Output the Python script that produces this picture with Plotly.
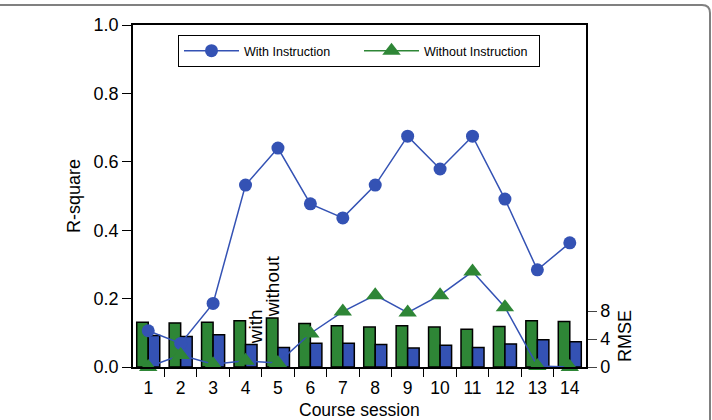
import plotly.graph_objects as go

sessions = list(range(1, 15))
r2_with = [0.106, 0.069, 0.186, 0.532, 0.640, 0.477, 0.436, 0.532, 0.675, 0.579, 0.675, 0.491, 0.284, 0.363]
r2_without = [0.0, 0.035, 0.008, 0.018, 0.012, 0.098, 0.162, 0.21, 0.159, 0.21, 0.279, 0.175, 0.003, 0.0]
rmse_without = [6.4, 6.3, 6.4, 6.6, 7.0, 6.2, 5.9, 5.7, 5.9, 5.7, 5.4, 5.8, 6.6, 6.5]
rmse_with = [4.5, 4.35, 4.6, 3.2, 2.8, 3.4, 3.4, 3.2, 2.7, 3.1, 2.8, 3.3, 3.9, 3.6]
rmse_ticks = [0, 4, 8]
r2_ticks = [0.0, 0.2, 0.4, 0.6, 0.8, 1.0]

BLUE = "#3452B4"
GREEN = "#2E8636"
FONT = "Liberation Sans, Arial, sans-serif"

fig = go.Figure()
# bars on primary y (RMSE, right side)
fig.add_trace(go.Bar(x=sessions, y=rmse_without, marker=dict(color=GREEN, line=dict(color="black", width=1.5)),
                     showlegend=False, yaxis="y"))
fig.add_trace(go.Bar(x=sessions, y=rmse_with, marker=dict(color=BLUE, line=dict(color="black", width=1.5)),
                     showlegend=False, yaxis="y"))
# lines on overlay y2 (R-square, left)
fig.add_trace(go.Scatter(x=sessions, y=r2_with, mode="lines+markers", name="With Instruction",
                         line=dict(color=BLUE, width=1.5), marker=dict(symbol="circle", size=13, color=BLUE),
                         yaxis="y2", cliponaxis=False))
fig.add_trace(go.Scatter(x=sessions, y=r2_without, mode="lines+markers", name="Without Instruction",
                         line=dict(color=BLUE, width=1.5), marker=dict(symbol="triangle-up", size=16, color=GREEN),
                         yaxis="y2", showlegend=False, cliponaxis=False))
# legend-only entry for the green line style
fig.add_trace(go.Scatter(x=[None], y=[None], mode="lines+markers", name="Without Instruction",
                         line=dict(color=GREEN, width=1.5), marker=dict(symbol="triangle-up", size=16, color=GREEN),
                         yaxis="y2"))

W, H = 712, 420
L, R, T, B = 133, 126, 25, 53
pw, ph = W - L - R, H - T - B

fig.update_layout(
    width=W, height=H,
    margin=dict(l=L, r=R, t=T, b=B),
    paper_bgcolor="white", plot_bgcolor="white",
    font=dict(family=FONT, size=18, color="black"),
    barmode="group", bargap=0.29, bargroupgap=0,
    xaxis=dict(range=[0.53, 14.5], tickvals=sessions, ticktext=[str(s) for s in sessions],
               ticks="", showline=True, linecolor="black", linewidth=1.5, mirror=True,
               showgrid=False, zeroline=False, automargin=False, ticklabelstandoff=4,
               tickfont=dict(size=17.5),
               minor=dict(tickvals=[s + 0.5 for s in sessions[:-1]], ticks="outside", ticklen=8,
                          tickwidth=1.2, tickcolor="black", showgrid=False)),
    yaxis=dict(range=[0, ph / 7.0], side="right", tickvals=rmse_ticks, ticks="outside", ticklen=9,
               tickwidth=1.2, tickcolor="#444", showline=True, linecolor="black", linewidth=1.5,
               showgrid=False, zeroline=False, tickfont=dict(size=18), automargin=False),
    yaxis2=dict(range=[0, 1], overlaying="y", side="left", tickvals=r2_ticks,
                ticktext=["%.1f" % v for v in r2_ticks], ticks="outside", ticklen=9, tickwidth=1.2,
                tickcolor="black", showline=True, linecolor="black", linewidth=1.5,
                showgrid=False, zeroline=False, automargin=False,
                title=dict(text="R-square", font=dict(size=18), standoff=8)),
    legend=dict(orientation="h", x=(178 - L) / pw, y=(367 - 35) / ph, xanchor="left", yanchor="top",
                bgcolor="white", bordercolor="black", borderwidth=1, font=dict(size=12.5),
                entrywidth=110, entrywidthmode="pixels", itemwidth=55),
    annotations=[
        dict(text="with", x=4.33, y=0.117, xref="x", yref="y2", textangle=-90, showarrow=False,
             xanchor="center", yanchor="middle", font=dict(size=19)),
        dict(text="without", x=4.86, y=0.237, xref="x", yref="y2", textangle=-90, showarrow=False,
             xanchor="center", yanchor="middle", font=dict(size=19)),
        dict(text="RMSE", x=(625 - L) / pw, y=(367 - 336) / ph, xref="paper", yref="paper",
             textangle=-90, showarrow=False, xanchor="center", yanchor="middle", font=dict(size=18)),
        dict(text="Course session", x=0.5, y=(367 - 410) / ph, xref="paper", yref="paper",
             showarrow=False, xanchor="center", yanchor="middle", borderpad=0, font=dict(size=17.5)),
    ],
    shapes=[
        dict(type="path", xref="paper", yref="paper",
             path="M %f,%f L %f,%f Q %f,%f %f,%f L %f,%f" % (
                 -L / pw, (367 - 5) / ph,
                 (702 - L) / pw, (367 - 5) / ph,
                 (710 - L) / pw, (367 - 5) / ph, (710 - L) / pw, (367 - 13) / ph,
                 (710 - L) / pw, -B / ph),
             line=dict(color="#808080", width=2), layer="below"),
    ],
)

fig.write_html("out.html")
